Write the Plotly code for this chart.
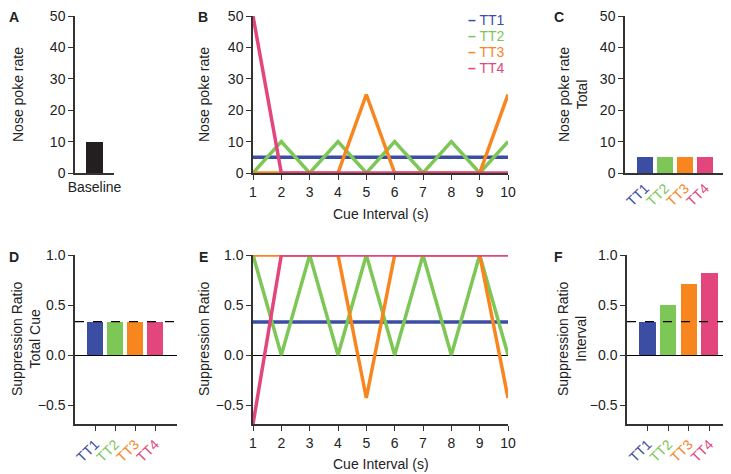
import plotly.graph_objects as go

# data
groups = ["TT1", "TT2", "TT3", "TT4"]
group_colors = ["#3b4ea3", "#7cc756", "#f7861f", "#e2467c"]

baseline_label = ["Baseline"]
baseline_rate = [10]

cue_interval = [1, 2, 3, 4, 5, 6, 7, 8, 9, 10]
rate_tt1 = [5, 5, 5, 5, 5, 5, 5, 5, 5, 5]
rate_tt2 = [0, 10, 0, 10, 0, 10, 0, 10, 0, 10]
rate_tt3 = [0, 0, 0, 0, 25, 0, 0, 0, 0, 25]
rate_tt4 = [50, 0, 0, 0, 0, 0, 0, 0, 0, 0]

total_rate = [5, 5, 5, 5]

ratio_tt1 = [0.33, 0.33, 0.33, 0.33, 0.33, 0.33, 0.33, 0.33, 0.33, 0.33]
ratio_tt2 = [1, 0, 1, 0, 1, 0, 1, 0, 1, 0]
ratio_tt3 = [1, 1, 1, 1, -0.43, 1, 1, 1, 1, -0.43]
ratio_tt4 = [-0.69, 1, 1, 1, 1, 1, 1, 1, 1, 1]

ratio_total_cue = [0.333, 0.333, 0.333, 0.333]
ratio_interval = [0.333, 0.5, 0.714, 0.824]
chance_level = 0.333

# page body has an 8px margin, so the figure is sized to the visible area
OFF = 8
W, H = 731 - OFF, 474 - OFF
FONT = "Liberation Sans, Arial, sans-serif"
AX = "#333333"


def px_x(p):
    return (p - OFF) / W


def px_y(p):
    return 1 - (p - OFF) / H


fig = go.Figure()

# A - baseline
fig.add_trace(go.Bar(x=baseline_label, y=baseline_rate, marker_color="#231f20",
                     width=0.44, xaxis="x", yaxis="y"))

# B - nose poke rate per cue interval
for name, vals, col in zip(groups, [rate_tt1, rate_tt2, rate_tt3, rate_tt4], group_colors):
    fig.add_trace(go.Scatter(x=cue_interval, y=vals, mode="lines", name=name,
                             line=dict(color=col, width=3.5), xaxis="x2", yaxis="y2"))

# C - total
fig.add_trace(go.Bar(x=groups, y=total_rate, marker_color=group_colors, width=0.8,
                     xaxis="x3", yaxis="y3"))

# D - suppression ratio total cue
fig.add_trace(go.Bar(x=groups, y=ratio_total_cue, marker_color=group_colors, width=0.8,
                     xaxis="x4", yaxis="y4"))

# E - suppression ratio per interval
for name, vals, col in zip(groups, [ratio_tt1, ratio_tt2, ratio_tt3, ratio_tt4], group_colors):
    fig.add_trace(go.Scatter(x=cue_interval, y=vals, mode="lines", name=name,
                             line=dict(color=col, width=3.5), xaxis="x5", yaxis="y5"))

# F - suppression ratio interval
fig.add_trace(go.Bar(x=groups, y=ratio_interval, marker_color=group_colors, width=0.8,
                     xaxis="x6", yaxis="y6"))

colored_ticks = [f'<span style="color:{c}">{g}</span>' for g, c in zip(groups, group_colors)]

top_dom = [px_y(173), px_y(16)]
bot_dom = [px_y(424), px_y(255)]

base_x = dict(showline=True, linecolor=AX, linewidth=1.5, showgrid=False, zeroline=False,
              tickfont=dict(size=14, color="#222"), ticks="outside", ticklen=5,
              tickcolor=AX, automargin=False, ticklabeloverflow="allow")
base_y = dict(showline=True, linecolor=AX, linewidth=1.5, showgrid=False,
              tickfont=dict(size=14, color="#222"), ticks="outside", ticklen=5,
              tickcolor=AX, automargin=False, ticklabeloverflow="allow")

rate_y = dict(base_y, range=[0, 50], tickvals=[0, 10, 20, 30, 40, 50], zeroline=False)
ratio_y = dict(base_y, range=[-0.69, 1.0], tickvals=[-0.5, 0, 0.5, 1.0], tickformat=".1f",
               zeroline=True, zerolinecolor="#000", zerolinewidth=1.2)
cat_x = dict(base_x, tickvals=groups, ticktext=colored_ticks, tickangle=-45, type="category")

fig.update_layout(
    template="none",
    xaxis=dict(base_x, domain=[px_x(75), px_x(114)], range=[-0.5, 0.5], ticks="",
               type="category"),
    yaxis=dict(rate_y, domain=top_dom, anchor="x"),
    xaxis2=dict(base_x, domain=[px_x(253), px_x(508)], range=[1, 10], dtick=1, anchor="y2"),
    yaxis2=dict(rate_y, domain=top_dom, anchor="x2"),
    xaxis3=dict(cat_x, domain=[px_x(625), px_x(726)], range=[-1, 4.05], ticks="", anchor="y3"),
    yaxis3=dict(rate_y, domain=top_dom, anchor="x3"),
    xaxis4=dict(cat_x, domain=[px_x(75), px_x(177)], range=[-1, 4.1], anchor="y4"),
    yaxis4=dict(ratio_y, domain=bot_dom, anchor="x4"),
    xaxis5=dict(base_x, domain=[px_x(253), px_x(508)], range=[1, 10], dtick=1, anchor="y5"),
    yaxis5=dict(ratio_y, domain=bot_dom, anchor="x5"),
    xaxis6=dict(cat_x, domain=[px_x(627), 1.0], range=[-1, 4.05], anchor="y6"),
    yaxis6=dict(ratio_y, domain=bot_dom, anchor="x6"),
    width=W, height=H,
    margin=dict(l=0, r=0, t=0, b=0, pad=0),
    plot_bgcolor="white", paper_bgcolor="white",
    font=dict(family=FONT, size=14, color="#222"),
    showlegend=False,
    bargap=0,
)

# chance-level dashed lines
for xr, yr in [("x4", "y4"), ("x6", "y6")]:
    fig.add_shape(type="line", xref=f"{xr} domain", yref=yr, x0=0, x1=1,
                  y0=chance_level, y1=chance_level,
                  line=dict(color="#000", width=1.2, dash="dash"))

ann = []
# panel letters
for letter, x, y in [("A", 14, 17), ("B", 203, 17), ("C", 559, 17),
                     ("D", 14, 257), ("E", 203, 257), ("F", 558, 257)]:
    ann.append(dict(text=f"<b>{letter}</b>", x=px_x(x), y=px_y(y), font=dict(size=14, color="#222")))

# y-axis titles
for txt, x, y in [("Nose poke rate", 18, 95), ("Nose poke rate", 204, 95),
                  ("Nose poke rate<br>Total", 573, 95),
                  ("Suppression Ratio<br>Total Cue", 26, 339),
                  ("Suppression Ratio", 204, 339),
                  ("Suppression Ratio<br>Interval", 572, 339)]:
    ann.append(dict(text=txt, x=px_x(x), y=px_y(y), textangle=-90, font=dict(size=14, color="#222")))

# x-axis titles
for x, y in [(381, 214), (381, 464)]:
    ann.append(dict(text="Cue Interval (s)", x=px_x(x), y=px_y(y), font=dict(size=14, color="#222")))

# legend for B
for i, (g, c) in enumerate(zip(groups, group_colors)):
    ann.append(dict(text=f"<b>–</b> {g}", x=px_x(507), y=px_y(20 + 16 * i),
                    xanchor="right", font=dict(size=14, color=c)))

for a in ann:
    a.setdefault("xanchor", "center")
    a.update(xref="paper", yref="paper", yanchor="middle", showarrow=False)
    fig.add_annotation(**a)

fig.write_html("out.html")
